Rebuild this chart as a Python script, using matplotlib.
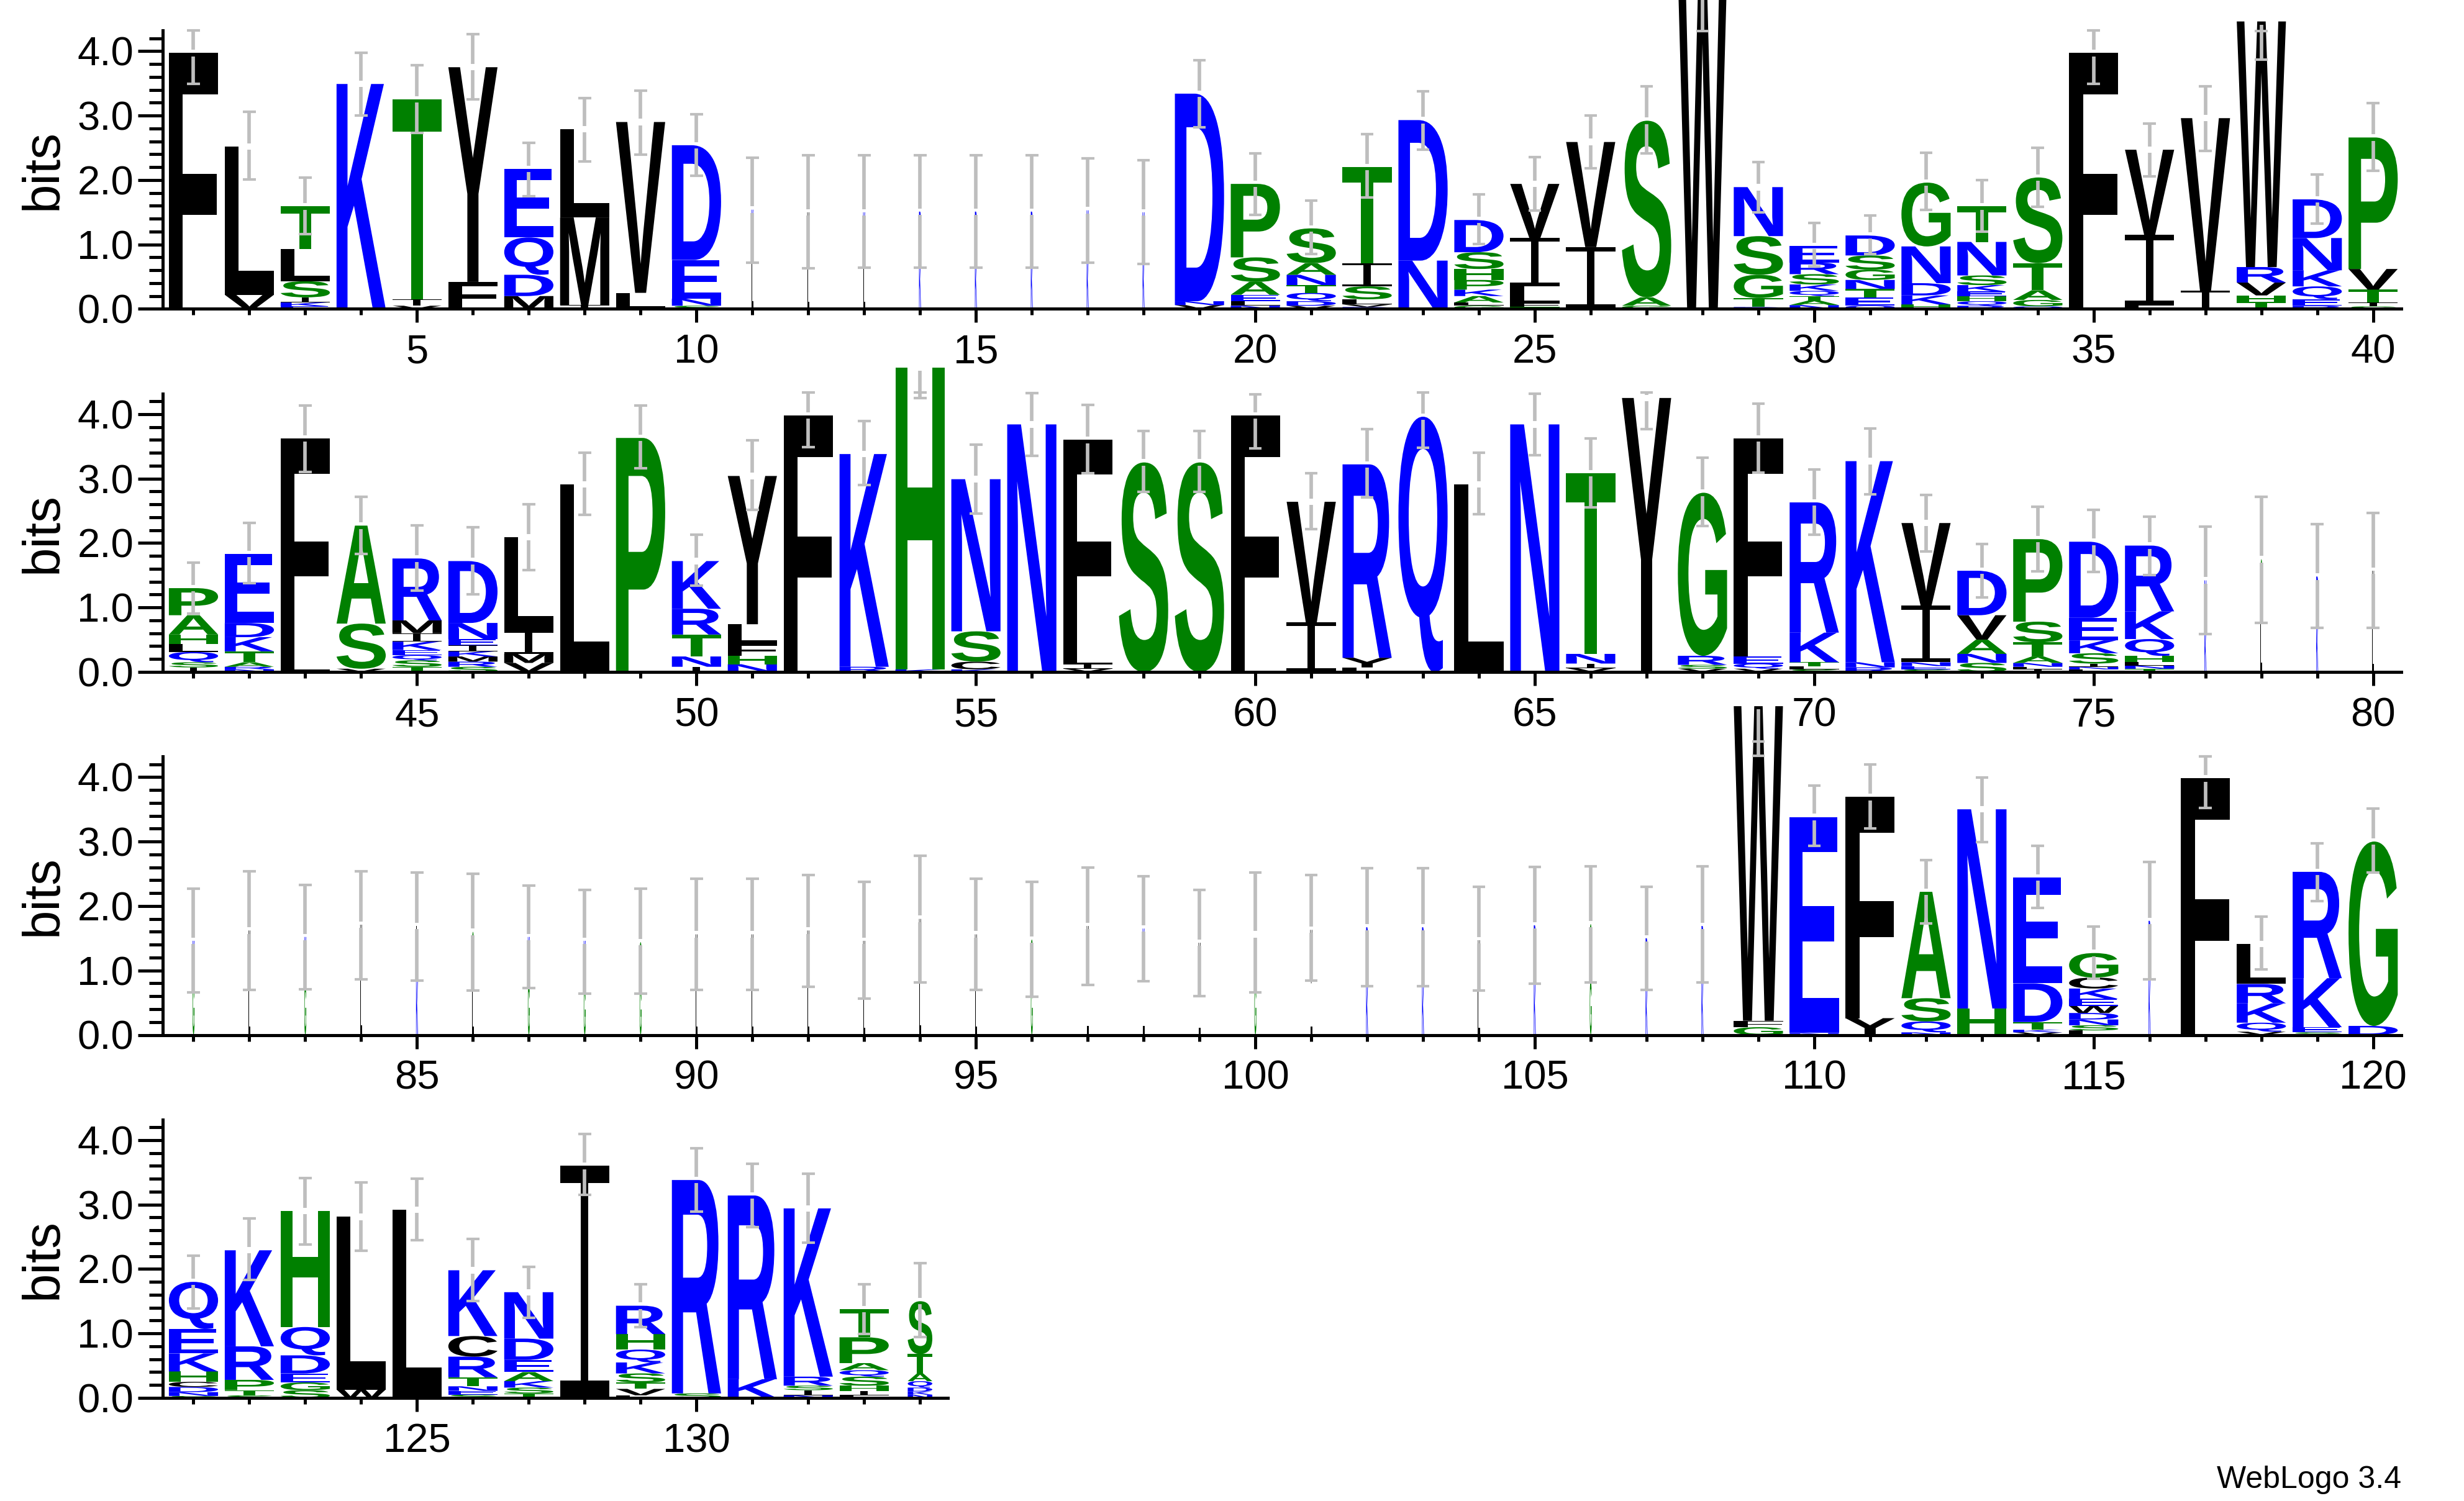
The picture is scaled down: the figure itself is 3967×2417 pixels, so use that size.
import matplotlib
matplotlib.use("Agg")
import matplotlib.pyplot as plt
from matplotlib.textpath import TextPath
from matplotlib.font_manager import FontProperties
from matplotlib.patches import PathPatch
from matplotlib.path import Path
from matplotlib.transforms import Affine2D
from matplotlib.ticker import FixedLocator, FixedFormatter, NullFormatter

plt.rcParams['font.family'] = ['Liberation Sans', 'DejaVu Sans']

# ---------------- data (letters bottom -> top, height in bits) ----------------
STACKS_1_40 = [
    "F3.97", "V0.22 L2.30", "E0.04 K0.06 I0.08 S0.25 L0.50 T0.66", "K3.49", "V0.05 I0.10 T3.10",
    "F0.42 Y3.33", "M0.20 D0.33 Q0.58 E1.06", "I0.06 M1.36 L1.37", "L0.25 V2.65", "S0.05 N0.11 E0.60 D1.78",
    "L0.72 K0.82", "L0.70 V0.80", "L0.70 K0.80", "K0.80 R0.71", "K0.80 R0.71",
    "K0.80 R0.71", "K0.80 N0.73", "K0.80 N0.70", "V0.06 N0.06 D3.22", "N0.05 L0.07 E0.10 A0.20 S0.38 P1.14",
    "V0.05 D0.07 Q0.13 T0.12 N0.16 A0.18 S0.54", "D0.03 V0.04 L0.08 S0.20 I0.36 T1.49", "N0.75 D2.18",
    "G0.05 L0.05 A0.10 K0.10 P0.15 H0.17 S0.26 D0.50", "T0.03 F0.06 L0.26 I0.75 V0.84",
    "I0.96 V1.63", "G0.05 A0.13 S2.74", "W5.20", "D0.03 T0.14 G0.36 S0.60 N0.76",
    "N0.06 A0.07 T0.07 Q0.08 K0.10 S0.16 R0.18 E0.26",
    "Q0.05 E0.13 T0.13 N0.14 G0.16 S0.22 D0.31", "H0.07 K0.14 D0.19 N0.57 G0.99",
    "R0.05 Q0.07 H0.08 E0.07 K0.10 S0.15 N0.52 T0.55", "Q0.04 G0.10 A0.15 T0.42 S1.33", "F3.97",
    "L0.05 I1.10 V1.32", "I0.28 V2.68", "T0.11 H0.10 V0.20 R0.24 W3.81",
    "R0.05 E0.10 Q0.20 K0.25 N0.50 D0.60", "S0.04 I0.06 T0.20 V0.32 P2.04",
]
STACKS_41_80 = [
    "I0.07 S0.08 Q0.16 L0.12 H0.15 A0.30 P0.42", "N0.04 R0.04 A0.07 T0.17 K0.22 D0.22 E1.07",
    "L0.24 F3.38", "V0.05 S0.70 A1.52", "T0.08 S0.10 Q0.08 E0.08 K0.13 I0.13 M0.20 R0.96",
    "S0.08 R0.08 M0.08 K0.08 I0.09 E0.10 N0.25 D0.96", "V0.14 M0.14 I0.35 L1.46", "L2.91", "P3.63",
    "I0.08 N0.16 T0.34 R0.40 K0.74", "N0.12 H0.13 F0.19 L0.30 Y2.30", "F3.98", "R0.08 K3.30",
    "K0.04 H4.68", "K0.04 C0.12 S0.47 N2.36", "N3.84", "V0.05 I0.07 L0.14 F3.34", "S3.25", "S3.25",
    "F3.98", "I0.77 V1.87", "L0.07 Y0.15 R3.00", "Q3.96", "L2.91", "N3.84", "V0.06 I0.07 N0.15 T2.80",
    "Y4.25", "V0.05 S0.06 R0.14 G2.53", "V0.05 Q0.08 E0.11 F3.38", "S0.04 L0.05 T0.06 K0.46 R2.02",
    "R0.07 N0.08 K3.12", "S0.04 E0.05 N0.06 I0.88 V1.28", "S0.14 N0.14 A0.22 V0.38 D0.69",
    "I0.04 L0.04 N0.06 A0.10 T0.22 S0.32 P1.28", "L0.04 N0.04 I0.05 S0.16 K0.20 E0.35 D1.18",
    "T0.05 N0.05 L0.05 H0.10 Q0.26 K0.43 R1.02", "K0.70 N0.72", "L0.90 G0.85", "K0.80 R0.68",
    "L0.80 V0.77",
]
STACKS_81_120 = [
    "G0.80 K0.66", "L0.80 V0.82", "G0.80 K0.72", "L0.90 V0.81", "K0.85 L0.84",
    "L0.80 G0.80", "G0.80 K0.72", "G0.75 K0.71", "G0.75 S0.69", "L0.80 V0.76",
    "L0.80 V0.76", "L0.80 V0.82", "L0.70 V0.76", "L0.90 V0.90", "L0.80 V0.76",
    "G0.80 S0.68", "L0.85 V0.84", "L0.85 K0.80", "L0.70 V0.73", "G0.80 L0.76",
    "L0.80 V0.83", "K0.80 R0.87", "K0.80 R0.87", "L0.70 V0.77", "K0.85 R0.85",
    "G0.85 S0.87", "K0.75 R0.75", "K0.85 R0.84", "G0.12 F0.10 W4.88", "N0.03 E3.35",
    "Y0.26 F3.43", "N0.04 Q0.17 S0.36 A1.65", "H0.41 N3.09", "V0.04 K0.04 T0.12 D0.60 E1.64",
    "L0.07 S0.08 N0.09 D0.10 W0.11 E0.11 K0.16 C0.17 G0.38", "K0.90 R0.87", "F3.98",
    "V0.05 Q0.14 K0.30 R0.30 L0.62", "S0.04 E0.08 K0.76 R1.65", "D0.14 G2.86",
]
STACKS_121_134 = [
    "S0.03 N0.06 D0.08 C0.08 H0.16 K0.28 E0.38 Q0.73", "S0.04 T0.08 P0.16 R0.52 K1.49",
    "S0.12 G0.12 E0.14 D0.28 Q0.44 H1.80", "W0.13 L2.68", "L2.92",
    "S0.05 E0.06 N0.07 T0.14 R0.32 C0.32 K1.02", "T0.07 S0.09 K0.10 A0.14 E0.19 D0.33 N0.72", "I3.60",
    "L0.04 V0.10 T0.10 S0.14 K0.17 Q0.20 H0.24 R0.44", "S0.07 R3.31", "K0.29 R2.85",
    "N0.04 I0.08 S0.07 R0.14 K2.61", "L0.04 I0.07 H0.08 S0.14 Q0.10 A0.11 P0.40 T0.44",
    "N0.05 K0.05 D0.06 Q0.10 A0.12 T0.30 S0.82",
]

ERR_LOW = [
    3.49, 2.01, 1.16, 3.00, 2.73, 3.25, 1.75, 2.29, 2.39, 2.07,
    0.72, 0.63, 0.64, 0.64, 0.64, 0.64, 0.72, 0.70, 2.82, 1.46,
    0.85, 1.73, 2.47, 1.01, 1.53, 2.18, 2.41, 4.31, 1.50, 0.66,
    0.85, 1.54, 1.20, 1.58, 3.49, 2.06, 2.45, 3.87, 1.32, 2.14,
    0.91, 1.38, 3.10, 1.83, 1.26, 1.20, 1.58, 2.44, 3.16, 1.34,
    2.51, 3.49, 2.90, 4.25, 2.46, 3.35, 3.08, 2.79, 2.79, 3.47,
    2.22, 2.71, 3.48, 2.45, 3.36, 2.55, 3.77, 2.26, 3.09, 2.13,
    2.76, 1.87, 1.16, 1.56, 1.55, 1.50, 0.59, 0.76, 0.68, 0.68,
    0.66, 0.70, 0.71, 0.86, 0.84, 0.69, 0.73, 0.64, 0.64, 0.70,
    0.70, 0.75, 0.56, 0.81, 0.70, 0.59, 0.78, 0.83, 0.60, 0.66,
    0.84, 0.76, 0.76, 0.69, 0.79, 0.81, 0.70, 0.81, 4.33, 2.93,
    3.20, 1.73, 2.99, 1.97, 0.87, 0.86, 3.52, 1.02, 2.08, 2.52,
    1.39, 1.83, 2.38, 2.28, 2.45, 1.50, 1.24, 3.15, 1.10, 2.89,
    2.65, 2.41, 0.99, 0.94,
]
ERR_HIGH = [
    4.32, 3.06, 2.04, 3.97, 3.78, 4.26, 2.58, 3.27, 3.39, 3.02,
    2.35, 2.38, 2.38, 2.38, 2.38, 2.38, 2.34, 2.31, 3.86, 2.41,
    1.68, 2.71, 3.38, 1.78, 2.36, 3.00, 3.45, 5.60, 2.28, 1.33,
    1.45, 2.42, 2.00, 2.50, 4.32, 2.88, 3.45, 4.31, 2.09, 3.19,
    1.70, 2.31, 4.13, 2.72, 2.27, 2.24, 2.60, 3.40, 4.13, 2.13,
    3.59, 4.34, 3.89, 4.34, 3.53, 4.33, 4.14, 3.74, 3.74, 4.31,
    3.08, 3.77, 4.34, 3.40, 4.32, 3.62, 4.34, 3.32, 4.16, 3.14,
    3.78, 2.75, 1.98, 2.56, 2.51, 2.41, 2.25, 2.72, 2.29, 2.47,
    2.27, 2.54, 2.33, 2.54, 2.52, 2.50, 2.32, 2.25, 2.27, 2.42,
    2.42, 2.48, 2.37, 2.78, 2.42, 2.37, 2.60, 2.46, 2.25, 2.52,
    2.48, 2.59, 2.59, 2.30, 2.61, 2.62, 2.30, 2.62, 4.55, 3.87,
    4.20, 2.71, 3.99, 2.93, 1.68, 2.68, 4.32, 1.84, 2.97, 3.51,
    2.21, 2.78, 3.41, 3.34, 3.40, 2.47, 2.03, 4.09, 1.76, 3.87,
    3.63, 3.48, 1.76, 2.09,
]
THIN_COLUMNS = list(range(11, 19)) + list(range(77, 109)) + [116]
HALF_COLUMNS = [134]
ROW_RANGES = [(1, 40), (41, 80), (81, 120), (121, 134)]
Y_MAJOR = [0, 1, 2, 3, 4]
Y_MAJOR_LABELS = ["0.0", "1.0", "2.0", "3.0", "4.0"]

# ---------------- styling ----------------
COLORS = {}
for c in "RKDENQ":
    COLORS[c] = "#0000ff"
for c in "SGHTAP":
    COLORS[c] = "#008000"
for c in "YVMCLFIW":
    COLORS[c] = "#000000"
ERR_COLOR = "#bebebe"

LETTER_FONT = FontProperties(family=['Liberation Sans', 'DejaVu Sans'], weight='bold')
_cache = {}


def glyph(c):
    if c not in _cache:
        if c == 'I':
            t, s = 0.075, 0.15
            verts = [(0, 0), (1, 0), (1, t), (0.5 + s / 2, t), (0.5 + s / 2, 1 - t), (1, 1 - t),
                     (1, 1), (0, 1), (0, 1 - t), (0.5 - s / 2, 1 - t), (0.5 - s / 2, t), (0, t), (0, 0)]
            codes = [Path.MOVETO] + [Path.LINETO] * 11 + [Path.CLOSEPOLY]
            p = Path(verts, codes)
        else:
            p = TextPath((0, 0), c, size=1, prop=LETTER_FONT)
        _cache[c] = (p, p.get_extents())
    return _cache[c]


def draw_letter(ax, c, x, y0, w, h):
    p, ext = glyph(c)
    tr = (Affine2D().translate(-ext.x0, -ext.y0)
          .scale(w / ext.width, h / ext.height)
          .translate(x - w / 2, y0))
    patch = PathPatch(tr.transform_path(p), facecolor=COLORS[c], edgecolor='none',
                      lw=0, clip_on=False, zorder=2)
    ax.add_patch(patch)


W_PX, H_PX = 3967, 2417
PX_POS = 89.98
PX_BIT = 103.8
YMAX = 4.32
LEFT_PX = 262
BASELINES = [497.5, 1082.0, 1666.5, 2251.0]

all_stacks = STACKS_1_40 + STACKS_41_80 + STACKS_81_120 + STACKS_121_134
assert len(all_stacks) == 134 and len(ERR_LOW) == 134 and len(ERR_HIGH) == 134

fig = plt.figure(figsize=(W_PX / 100, H_PX / 100), dpi=100)
fig.patch.set_facecolor('white')

for r, (p0, p1) in enumerate(ROW_RANGES):
    xlo, xhi = p0 - 0.55, p1 + 0.5
    width_px = (xhi - xlo) * PX_POS
    base = BASELINES[r]
    ax = fig.add_axes([LEFT_PX / W_PX, 1 - base / H_PX, width_px / W_PX, YMAX * PX_BIT / H_PX])
    ax.set_xlim(xlo, xhi)
    ax.set_ylim(0, YMAX)
    ax.patch.set_alpha(0)
    for s in ('top', 'right'):
        ax.spines[s].set_visible(False)
    for s in ('left', 'bottom'):
        ax.spines[s].set_linewidth(3.6)

    for pos in range(p0, p1 + 1):
        tokens = all_stacks[pos - 1].split()
        sw = 1.0
        if pos in THIN_COLUMNS:
            sw = 0.04
        elif pos in HALF_COLUMNS:
            sw = 0.5
        lw_letter = 0.88 * sw
        y = 0.0
        for tk in tokens:
            c, hgt = tk[0], float(tk[1:])
            draw_letter(ax, c, pos, y, lw_letter, hgt)
            y += hgt
        h = y
        lo, hi = ERR_LOW[pos - 1], ERR_HIGH[pos - 1]
        ymin_l, ymax_l = min(lo, h), max(hi, h)
        g = 0.05
        if h - g > ymin_l:
            ax.plot([pos, pos], [ymin_l, h - g], color=ERR_COLOR, lw=4.1,
                    solid_capstyle='butt', clip_on=False, zorder=3)
        if ymax_l > h + g:
            ax.plot([pos, pos], [h + g, ymax_l], color=ERR_COLOR, lw=4.1,
                    solid_capstyle='butt', clip_on=False, zorder=3)
        for yc in (lo, hi):
            ax.plot([pos - 0.115, pos + 0.115], [yc, yc], color=ERR_COLOR, lw=3.0,
                    solid_capstyle='butt', clip_on=False, zorder=3)

    # y axis ticks
    ax.yaxis.set_major_locator(FixedLocator(Y_MAJOR))
    ax.yaxis.set_major_formatter(FixedFormatter(Y_MAJOR_LABELS))
    minors = [round(0.2 * k, 1) for k in range(1, 22) if k % 5 != 0]
    ax.yaxis.set_minor_locator(FixedLocator(minors))
    ax.tick_params(axis='y', which='major', length=28.8, width=3.6, pad=5, labelsize=47)
    ax.tick_params(axis='y', which='minor', length=15.8, width=3.6)
    # x axis ticks
    majors_x = [p for p in range(p0, p1 + 1) if p % 5 == 0]
    minors_x = [p for p in range(p0, p1 + 1) if p % 5 != 0]
    ax.xaxis.set_major_locator(FixedLocator(majors_x))
    ax.xaxis.set_major_formatter(FixedFormatter([str(p) for p in majors_x]))
    ax.xaxis.set_minor_locator(FixedLocator(minors_x))
    ax.xaxis.set_minor_formatter(NullFormatter())
    ax.tick_params(axis='x', which='major', length=16, width=3.6, pad=13, labelsize=47)
    ax.tick_params(axis='x', which='minor', length=7.5, width=3.6)

    fig.text(70 / W_PX, 1 - (base - 2.16 * PX_BIT) / H_PX, 'bits', rotation=90,
             ha='center', va='center', fontsize=60)

fig.text(3866 / W_PX, 1 - 2383 / H_PX, 'WebLogo 3.4', ha='right', va='center', fontsize=36)

fig.savefig('out.png', dpi=100)
